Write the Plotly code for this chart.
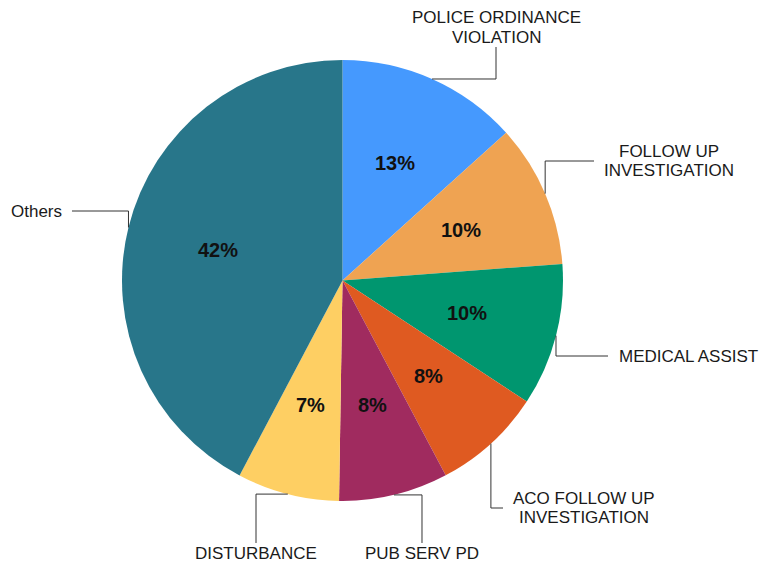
import math
import plotly.graph_objects as go

# ---- data ----
categories = ["POLICE ORDINANCE VIOLATION", "FOLLOW UP INVESTIGATION", "MEDICAL ASSIST",
              "ACO FOLLOW UP INVESTIGATION", "PUB SERV PD", "DISTURBANCE", "Others"]
values = [1331, 1049, 1045, 800, 800, 748, 4227]
label_lines = [["POLICE ORDINANCE", "VIOLATION"], ["FOLLOW UP", "INVESTIGATION"], ["MEDICAL ASSIST"],
               ["ACO FOLLOW UP", "INVESTIGATION"], ["PUB SERV PD"], ["DISTURBANCE"], ["Others"]]
colors = ["#4599FE", "#EFA352", "#00966F", "#DF5A21", "#A02B5F", "#FECF63", "#28768A"]

# ---- layout / style ----
W, H = 761, 563
ML, MR, MT, MB = 122, 198, 60, 62
PW, PH = W - ML - MR, H - MT - MB
CX, CY = ML + PW / 2, MT + PH / 2
R = min(PW, PH) / 2
FONT = "Liberation Sans, Arial, sans-serif"
LINE_COLOR = "#333333"
TEXT_R = 128.5  # px radius of percent labels
LINE_H = 19.5   # px spacing between label lines

# leader routes: (first direction, elbow coordinate, end coordinate, label side, block centre x or None)
routes = [
    ("h", 496, 47, "top", None),
    ("v", 161, 594, "right", 668.5),
    ("v", 356, 608, "right", None),
    ("v", 508, 503, "right", 583.5),
    ("h", 422, 543, "bottom", None),
    ("h", 256, 543, "bottom", None),
    ("v", 211, 72, "left", None),
]


def px(x):
    return (x - ML) / PW


def py(y):
    return 1 - (y - MT) / PH


fig = go.Figure(go.Pie(
    labels=categories, values=values, sort=False, direction="clockwise", rotation=0,
    marker=dict(colors=colors, line=dict(width=0)), textinfo="none", hoverinfo="label+percent",
    showlegend=False,
))

total = sum(values)
cum = 0
annotations = []
shapes = []
for i, v in enumerate(values):
    a0 = cum / total * 2 * math.pi
    cum += v
    a1 = cum / total * 2 * math.pi
    mid = (a0 + a1) / 2
    # percent label
    tx = CX + TEXT_R * math.sin(mid)
    ty = CY - TEXT_R * math.cos(mid)
    annotations.append(dict(x=px(tx), y=py(ty), xref="paper", yref="paper",
                            text="<b>%d%%</b>" % round(v / total * 100), showarrow=False,
                            font=dict(family=FONT, size=20, color="#111111"),
                            xanchor="center", yanchor="middle"))
    # leader line
    ex = CX + R * math.sin(mid)
    ey = CY - R * math.cos(mid)
    d, elbow, end, side, bcx = routes[i]
    if d == "h":
        p1 = (elbow, ey)
        p2 = (elbow, end)
    else:
        p1 = (ex, elbow)
        p2 = (end, elbow)
    path = "M %f,%f L %f,%f L %f,%f" % (px(ex), py(ey), px(p1[0]), py(p1[1]), px(p2[0]), py(p2[1]))
    shapes.append(dict(type="path", path=path, xref="paper", yref="paper",
                       line=dict(color=LINE_COLOR, width=1)))
    # category label lines
    lines = label_lines[i]
    n = len(lines)
    for k, txt in enumerate(lines):
        if side == "top":
            lx, ly, xa = p2[0], p2[1] - 10 - (n - 1 - k) * LINE_H, "center"
        elif side == "bottom":
            lx, ly, xa = p2[0], p2[1] + 10 + k * LINE_H, "center"
        elif side == "right":
            ly = p2[1] + (k - (n - 1) / 2) * LINE_H
            if bcx is not None:
                lx, xa = bcx, "center"
            else:
                lx, xa = p2[0] + 9, "left"
        else:
            lx, ly, xa = p2[0] - 8, p2[1] + (k - (n - 1) / 2) * LINE_H, "right"
        annotations.append(dict(x=px(lx), y=py(ly), xref="paper", yref="paper", text=txt,
                                showarrow=False, font=dict(family=FONT, size=17, color="#1a1a1a"),
                                xanchor=xa, yanchor="middle"))

fig.update_layout(
    width=W, height=H, margin=dict(l=ML, r=MR, t=MT, b=MB, autoexpand=False),
    paper_bgcolor="white", plot_bgcolor="white",
    annotations=annotations, shapes=shapes,
)
fig.write_html("out.html", config={"displayModeBar": False},
               post_script="document.body.style.margin='0';document.body.style.overflow='hidden';")
